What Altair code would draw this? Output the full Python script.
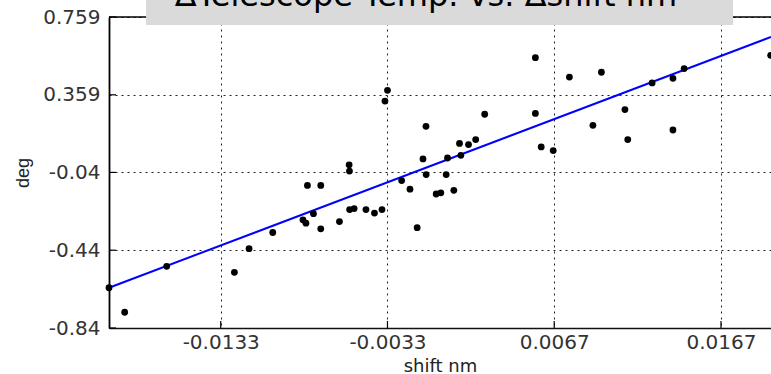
import altair as alt
import pandas as pd

# ---- data ----
shift_nm = [-0.0200, -0.01906, -0.01654, -0.01248, -0.01160, -0.01018, -0.00837, -0.00819,
            -0.00810, -0.00774, -0.00730, -0.00730, -0.00618, -0.00560, -0.00558, -0.00557,
            -0.00530, -0.00459, -0.00408, -0.00363, -0.00345, -0.00330, -0.00245, -0.00195,
            -0.00152, -0.00117, -0.00099, -0.00098, -0.00038, -0.00010, 0.00022, 0.00030,
            0.00068, 0.00102, 0.00110, 0.00156, 0.00199, 0.00253, 0.00557, 0.00557,
            0.00592, 0.00664, 0.00761, 0.00902, 0.00953, 0.01094, 0.01111, 0.01257,
            0.01382, 0.01382, 0.01449, 0.01968]
deg = [-0.633, -0.759, -0.523, -0.554, -0.432, -0.349, -0.284, -0.301,
       -0.107, -0.252, -0.107, -0.330, -0.293, -0.001, -0.033, -0.231,
       -0.226, -0.231, -0.249, -0.231, 0.327, 0.382, -0.082, -0.126,
       -0.324, 0.029, 0.197, -0.051, -0.151, -0.145, -0.051, 0.034,
       -0.132, 0.109, 0.048, 0.103, 0.129, 0.259, 0.550, 0.263,
       0.091, 0.072, 0.450, 0.202, 0.475, 0.283, 0.129, 0.420,
       0.444, 0.178, 0.494, 0.562]
fit_shift = [-0.0200, 0.0197]
fit_deg = [-0.633, 0.656]
x_ticks = [-0.0133, -0.0033, 0.0067, 0.0167]
y_ticks = [-0.84, -0.44, -0.04, 0.359, 0.759]
title_text = "ΔTelescope Temp. vs. Δshift nm"
x_title = "shift nm"
y_title = "deg"

W, H = 662, 311
XDOM = [-0.0200, 0.0197]
YDOM = [-0.84, 0.759]

pts = pd.DataFrame({"shift": shift_nm, "deg": deg})
fit = pd.DataFrame({"shift": fit_shift, "deg": fit_deg})
one = pd.DataFrame({"a": [0]})

xs = alt.Scale(domain=XDOM, nice=False, zero=False)
ys = alt.Scale(domain=YDOM, nice=False, zero=False)

x_axis = alt.Axis(values=x_ticks, labelExpr="datum.value + ''", title=x_title,
                  grid=True, ticks=False, tickSize=0, labelPadding=20.6,
                  labelBaseline="alphabetic", labelFont="DejaVu Sans", labelFontSize=20,
                  labelColor="#333333", titleFont="DejaVu Sans", titleFontSize=18,
                  titleFontWeight="normal", titleColor="#222222", titleY=43.5,
                  titleBaseline="alphabetic", domainColor="#111111", domainWidth=1.5,
                  gridColor="#222222", gridDash=[2, 4], gridWidth=1,
                  labelFlush=False, labelOverlap=False)
y_axis = alt.Axis(values=y_ticks, labelExpr="datum.value + ''", title=y_title,
                  grid=True, ticks=False, tickSize=0, labelPadding=9,
                  labelFont="DejaVu Sans", labelFontSize=20, labelColor="#333333",
                  titleFont="Liberation Sans", titleFontSize=18, titleFontWeight="normal",
                  titleColor="#222222", titleX=-81, titleBaseline="alphabetic",
                  domainColor="#000000", domainWidth=1.8,
                  gridColor="#222222", gridDash=[2, 4], gridWidth=1,
                  labelFlush=False, labelOverlap=False)

X = lambda f: alt.X(f, type="quantitative", scale=xs, axis=x_axis)
Y = lambda f: alt.Y(f, type="quantitative", scale=ys, axis=y_axis)

frame = alt.Chart(one).mark_rule(color="#000000", strokeWidth=1.5).encode(
    x=alt.value(0), x2=alt.value(W), y=alt.value(0))

line = alt.Chart(fit).mark_line(color="#0000ff", strokeWidth=2).encode(
    x=X("shift"), y=Y("deg"))

points = alt.Chart(pts).mark_circle(size=46, color="#000000", opacity=1).encode(
    x=X("shift"), y=Y("deg"))

xt = alt.Chart(pd.DataFrame({"shift": x_ticks})).mark_rule(color="#000000", strokeWidth=1.2).encode(
    x=X("shift"), y=alt.value(H), y2=alt.value(H - 7))
yt = alt.Chart(pd.DataFrame({"deg": y_ticks})).mark_rule(color="#000000", strokeWidth=1.2).encode(
    y=Y("deg"), x=alt.value(0), x2=alt.value(7))

tbox = alt.Chart(one).mark_rect(color="#dadada").encode(
    x=alt.value(37), x2=alt.value(624), y=alt.value(-17), y2=alt.value(8))
ttext = alt.Chart(one).mark_text(text=title_text, font="DejaVu Sans", fontSize=32,
                                 baseline="alphabetic", align="center", color="#000000").encode(
    x=alt.value(317), y=alt.value(-11.5))

chart = alt.layer(frame, line, points, xt, yt, tbox, ttext).properties(
    width=W, height=H,
    padding={"left": 109, "top": 17, "right": 0, "bottom": 46},
    autosize=alt.AutoSizeParams(type="none"),
    background="white",
).configure_view(stroke=None)

chart.save("out.html", embed_options={"renderer": "svg", "actions": False})
